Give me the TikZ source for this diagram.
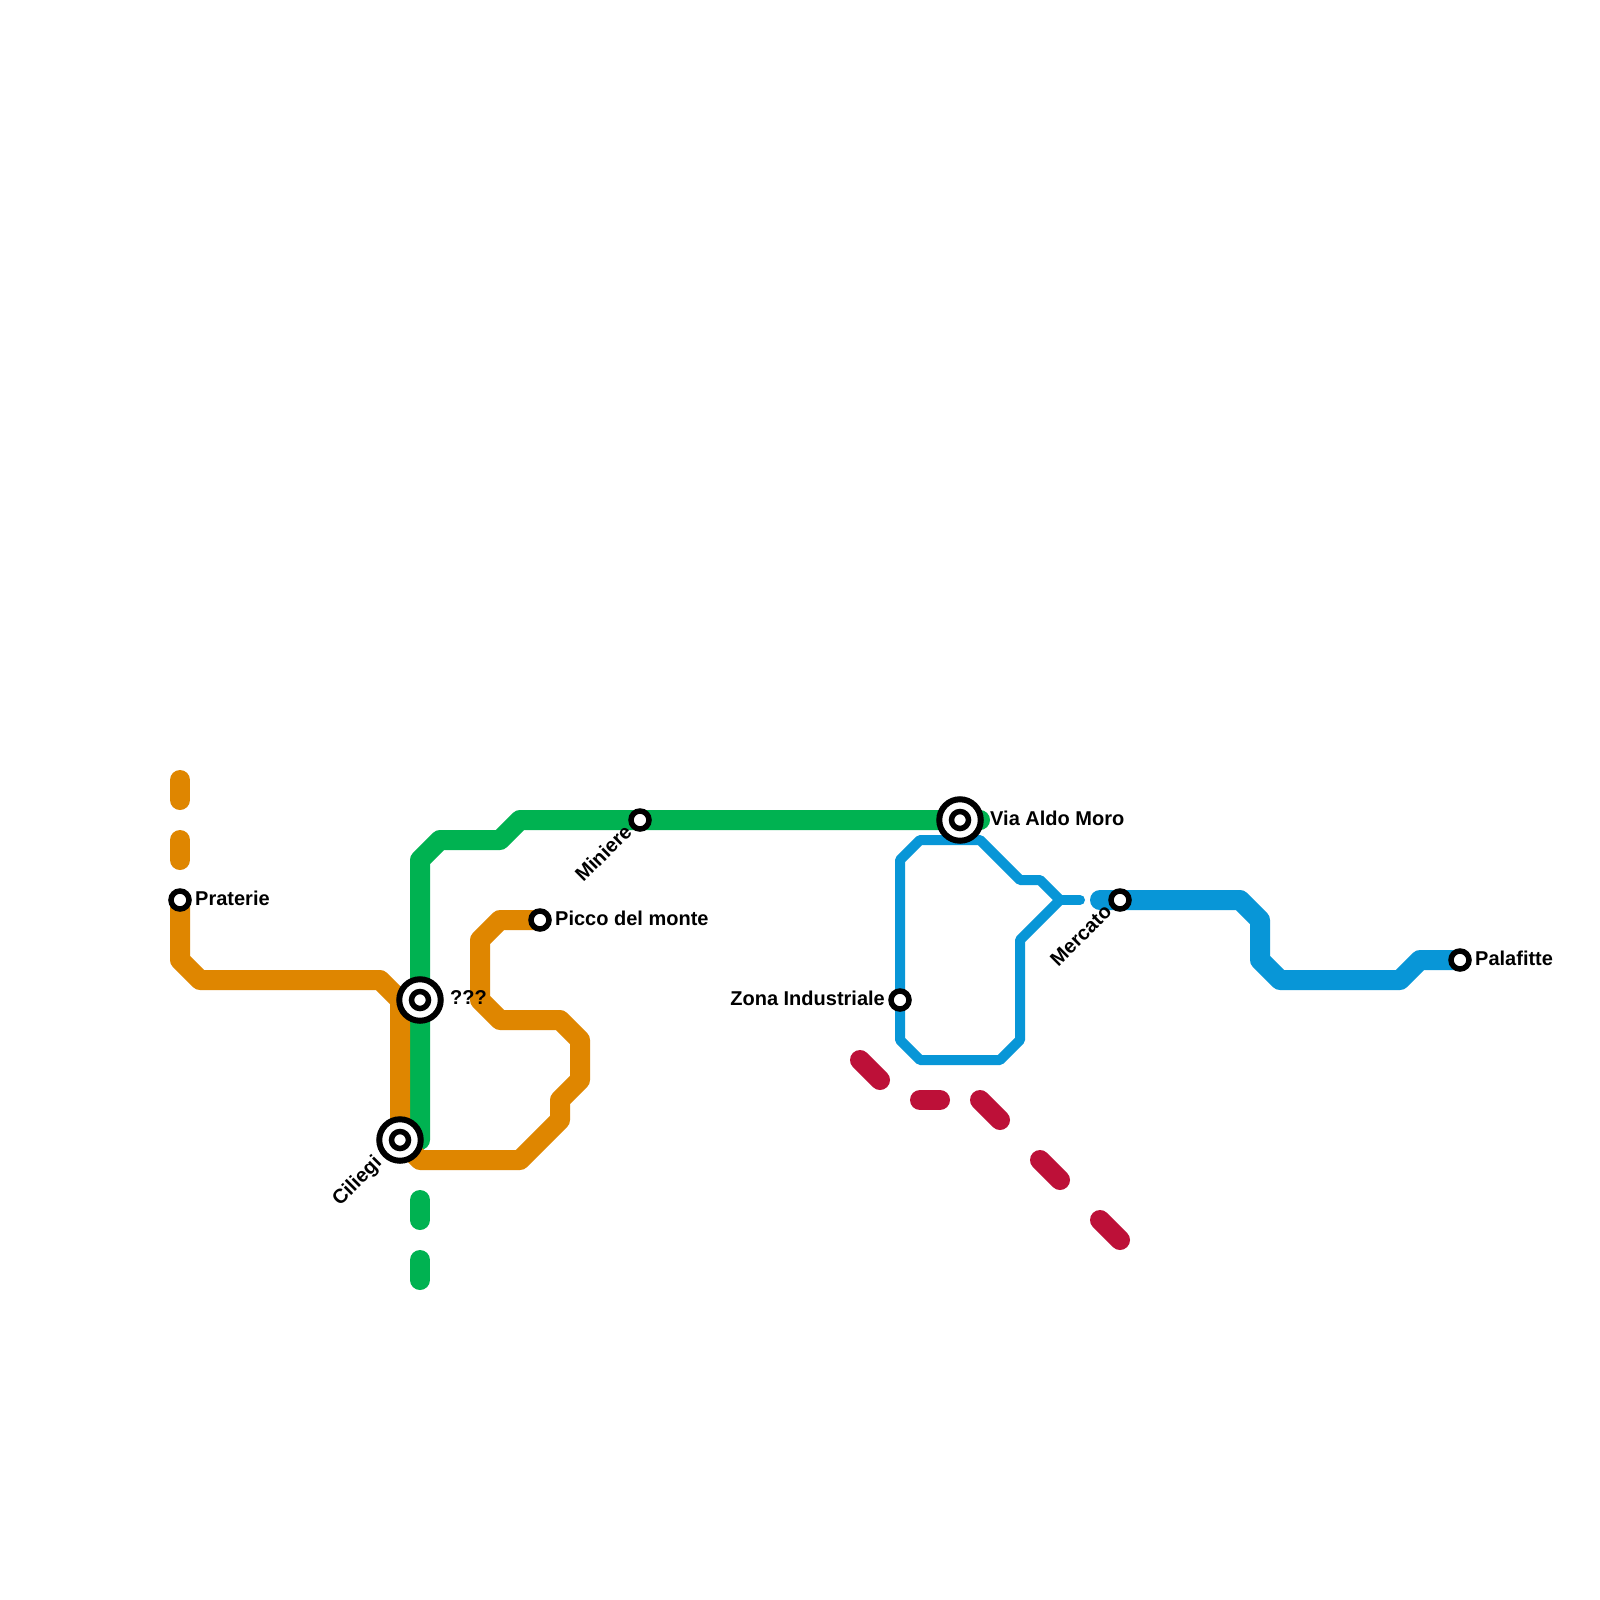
\documentclass[tikz,border=0pt]{standalone}
\usepackage{fontspec}
\setmainfont{Liberation Sans}
\definecolor{lorange}{HTML}{DF8600}
\definecolor{lgreen}{HTML}{00B251}
\definecolor{lblue}{HTML}{0896D7}
\definecolor{lred}{HTML}{BD1038}
\tikzset{
  metro/.style={line width=20pt,line cap=round,line join=round},
  thin metro/.style={line width=10pt,line cap=round,line join=round},
  small stop/.style={circle,draw=black,fill=white,line width=5.5pt,minimum size=18pt,inner sep=0pt,outer sep=0pt},
  big stop/.style={circle,draw=black,fill=white,line width=6pt,minimum size=41.5pt,inner sep=0pt,outer sep=0pt},
  core stop/.style={circle,draw=black,fill=white,line width=5.5pt,minimum size=17pt,inner sep=0pt,outer sep=0pt},
  lab/.style={font=\fontsize{20}{24}\selectfont\bfseries,inner sep=0pt,text=black},
}
\begin{document}
\begin{tikzpicture}[x=1pt,y=-1pt]
\path[use as bounding box,fill=white] (0,0) rectangle (1600,1600);
% station positions
\coordinate (praterie) at (180,900);
\coordinate (picco) at (540,920);
\coordinate (qqq) at (420,1000);
\coordinate (ciliegi) at (400,1140);
\coordinate (miniere) at (640,820);
\coordinate (moro) at (960,820);
\coordinate (zona) at (900,1000);
\coordinate (mercato) at (1120,900);
\coordinate (palafitte) at (1460,960);
\coordinate (junction) at (1060,900);
\coordinate (blueend) at (1080,900);
\coordinate (bluestart) at (1100,900);
\coordinate (greenend) at (980,820);
\coordinate (ga) at (420,1200); \coordinate (gb) at (420,1220);
\coordinate (gc) at (420,1260); \coordinate (gd) at (420,1280);
\coordinate (oa) at (180,780); \coordinate (ob) at (180,800);
\coordinate (oc) at (180,840); \coordinate (od) at (180,860);
\coordinate (ra) at (860,1060); \coordinate (rb) at (880,1080);
\coordinate (rc) at (920,1100); \coordinate (rd) at (940,1100);
\coordinate (re) at (980,1100); \coordinate (rf) at (1000,1120);
\coordinate (rg) at (1040,1160); \coordinate (rh) at (1060,1180);
\coordinate (ri) at (1100,1220); \coordinate (rj) at (1120,1240);
% red dashes
\foreach \p/\q in {ra/rb,rc/rd,re/rf,rg/rh,ri/rj} \draw[metro,lred] (\p) -- (\q);
% blue
\draw[thin metro,lblue] (zona) -- (900,860) -- (920,840) -- (980,840) -- (1020,880) -- (1040,880) -- (junction) -- (1020,940) -- (1020,1040) -- (1000,1060) -- (920,1060) -- (900,1040) -- (zona);
\draw[thin metro,lblue] (junction) -- (blueend);
\draw[metro,lblue] (bluestart) -- (mercato) -- (1240,900) -- (1260,920) -- (1260,960) -- (1280,980) -- (1400,980) -- (1420,960) -- (palafitte);
% green
\draw[metro,lgreen] (ciliegi -| qqq) -- (qqq) -- (420,860) -- (440,840) -- (500,840) -- (520,820) -- (miniere) -- (moro) -- (greenend);
\draw[metro,lgreen] (ga) -- (gb);
\draw[metro,lgreen] (gc) -- (gd);
% orange
\draw[metro,lorange] (oa) -- (ob);
\draw[metro,lorange] (oc) -- (od);
\draw[metro,lorange] (praterie) -- (180,960) -- (200,980) -- (380,980) -- (400,1000) -- (ciliegi) -- (420,1160) -- (520,1160) -- (560,1120) -- (560,1100) -- (580,1080) -- (580,1040) -- (560,1020) -- (500,1020) -- (480,1000) -- (480,940) -- (500,920) -- (picco);
% stations
\node[small stop] (sPraterie) at (praterie) {};
\node[small stop] (sPicco) at (picco) {};
\node[small stop] (sMiniere) at (miniere) {};
\node[small stop] (sZona) at (zona) {};
\node[small stop] (sMercato) at (mercato) {};
\node[small stop] (sPalafitte) at (palafitte) {};
\node[big stop] (sQqq) at (qqq) {};
\node[core stop] (cQqq) at (qqq) {};
\node[big stop] (sCiliegi) at (ciliegi) {};
\node[core stop] (cCiliegi) at (ciliegi) {};
\node[big stop] (sMoro) at (moro) {};
\node[core stop] (cMoro) at (moro) {};
% labels
\node[lab,anchor=west] (lPraterie) at (195,898) {Praterie};
\node[lab,anchor=west] (lPicco) at (555,918) {Picco del monte};
\node[lab,anchor=west] (lQqq) at (450,998) {???};
\node[lab,anchor=west] (lMoro) at (990,818) {Via Aldo Moro};
\node[lab,anchor=east] (lZona) at (885,998) {Zona Industriale};
\node[lab,anchor=west] (lPalafitte) at (1475,958) {Palafitte};
\node[lab,anchor=east,rotate=45] (lMiniere) at (628,828) {Miniere};
\node[lab,anchor=east,rotate=45] (lMercato) at (1108,908) {Mercato};
\node[lab,anchor=east,rotate=45] (lCiliegi) at (379,1160) {Ciliegi};
\end{tikzpicture}
\end{document}
